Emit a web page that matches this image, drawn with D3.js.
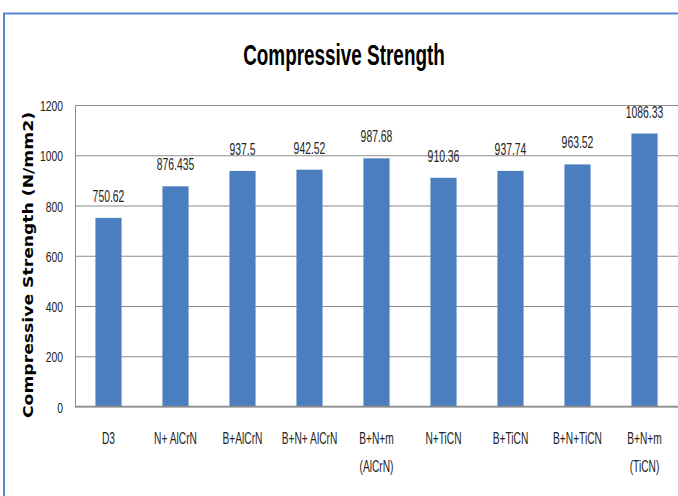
<!DOCTYPE html>
<html>
<head>
<meta charset="utf-8">
<script src="https://cdn.jsdelivr.net/npm/d3@7/dist/d3.min.js"></script>
<style>
  html, body { margin: 0; padding: 0; background: #fff; }
  svg { display: block; }
</style>
</head>
<body>
<svg id="chart" width="678" height="496"></svg>
<script>
// Compressive strength per coating / treatment (N/mm2)
const categories = ["D3", "N+ AlCrN", "B+AlCrN", "B+N+ AlCrN", "B+N+m (AlCrN)", "N+TiCN", "B+TiCN", "B+N+TiCN", "B+N+m (TiCN)"];
const strengths = [750.62, 876.435, 937.5, 942.52, 987.68, 910.36, 937.74, 963.52, 1086.33];
const strengthLabels = ["750.62", "876.435", "937.5", "942.52", "987.68", "910.36", "937.74", "963.52", "1086.33"];
const yTicks = [0, 200, 400, 600, 800, 1000, 1200];

const svg = d3.select("#chart");
const W = 678, H = 496;
const plot = { left: 75, right: 678, top: 105, bottom: 406.5 };

// frame border (top + left edges visible)
svg.append("rect").attr("x", 0).attr("y", 0).attr("width", W).attr("height", H).attr("fill", "#fff");
svg.append("path")
  .attr("d", `M4,${H} L4,13.5 L${W},13.5`)
  .attr("fill", "none").attr("stroke", "#5a86d4").attr("stroke-width", 2);

const x = d3.scaleBand().domain(categories).range([plot.left, plot.right])
  .paddingInner(0.61).paddingOuter(0.305);
const y = d3.scaleLinear().domain([0, 1200]).range([plot.bottom, plot.top]);

// squeeze text horizontally to a narrow face
function squeeze(sel, k) {
  sel.each(function () {
    const len = this.getComputedTextLength();
    d3.select(this).attr("textLength", len * k).attr("lengthAdjust", "spacingAndGlyphs");
  });
}

// gridlines
const grid = svg.append("g").attr("transform", `translate(${plot.left},0)`)
  .call(d3.axisLeft(y).tickValues(yTicks).tickSize(-(plot.right - plot.left)).tickFormat(""));
grid.select(".domain").remove();
grid.selectAll(".tick line").attr("stroke", "#8c8c8c").attr("stroke-width", 1);

// y axis line + labels
const yAxis = svg.append("g").attr("transform", `translate(${plot.left},0)`)
  .call(d3.axisLeft(y).tickValues(yTicks).tickSize(0).tickPadding(12).tickFormat(d3.format("d")));
yAxis.select(".domain").attr("stroke", "#8c8c8c").attr("stroke-width", 1);
yAxis.selectAll(".tick text")
  .attr("font-family", "Liberation Sans, Arial, sans-serif")
  .attr("font-size", 14).attr("fill", "#222").attr("dy", "0.4em")
  .call(squeeze, 0.74);

// bars
svg.append("g").selectAll("rect").data(strengths).join("rect")
  .attr("x", (d, i) => x(categories[i]))
  .attr("width", x.bandwidth())
  .attr("y", d => y(d))
  .attr("height", d => y(0) - y(d))
  .attr("fill", "#4a7ebe");

// x axis baseline
svg.append("line")
  .attr("x1", plot.left).attr("x2", plot.right)
  .attr("y1", y(0)).attr("y2", y(0))
  .attr("stroke", "#8c8c8c").attr("stroke-width", 1.5);

// value labels
svg.append("g").selectAll("text").data(strengths).join("text")
  .attr("x", (d, i) => x(categories[i]) + x.bandwidth() / 2)
  .attr("y", d => y(d) - 16)
  .attr("text-anchor", "middle")
  .attr("font-family", "Liberation Sans, Arial, sans-serif")
  .attr("font-size", 16.5).attr("fill", "#222")
  .text((d, i) => strengthLabels[i])
  .call(squeeze, 0.63);

// category labels (wrap parenthesised part onto a second line)
const catG = svg.append("g");
categories.forEach(c => {
  const parts = c.split(" (");
  const lines = parts.length > 1 ? [parts[0], "(" + parts[1]] : [c];
  lines.forEach((ln, j) => {
    catG.append("text")
      .attr("x", x(c) + x.bandwidth() / 2)
      .attr("y", 444 + j * 28)
      .attr("text-anchor", "middle")
      .attr("font-family", "Liberation Sans, Arial, sans-serif")
      .attr("font-size", 17).attr("fill", "#222")
      .text(ln)
      .call(squeeze, 0.6);
  });
});

// title
svg.append("text")
  .attr("x", 344).attr("y", 65)
  .attr("text-anchor", "middle")
  .attr("font-family", "Liberation Sans, Arial, sans-serif")
  .attr("font-weight", "bold").attr("font-size", 30).attr("fill", "#000")
  .text("Compressive Strength")
  .call(squeeze, 0.63);

// y axis title
svg.append("text")
  .attr("transform", "translate(33,265) rotate(-90)")
  .attr("text-anchor", "middle")
  .attr("font-family", "DejaVu Sans, Verdana, sans-serif")
  .attr("font-weight", "bold").attr("font-size", 14).attr("fill", "#000")
  .attr("textLength", 306).attr("lengthAdjust", "spacingAndGlyphs")
  .text("Compressive Strength (N/mm2)");
</script>
</body>
</html>
